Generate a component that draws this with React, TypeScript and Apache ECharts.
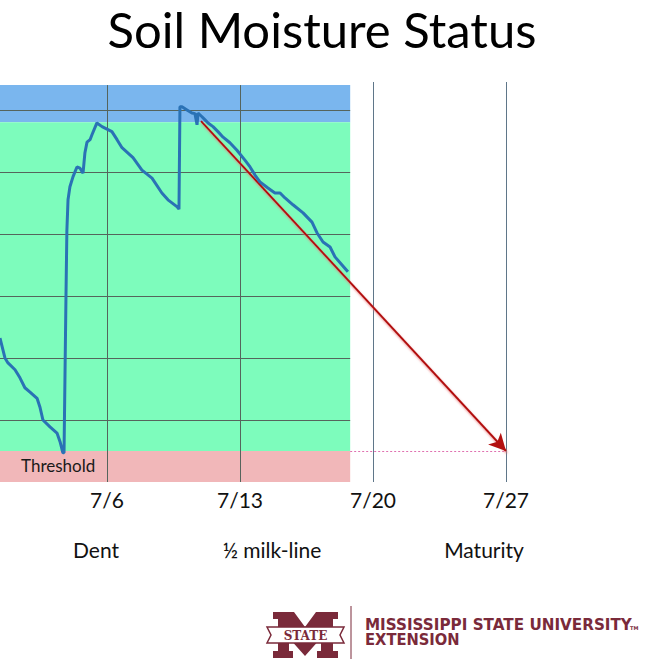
import React, { useEffect, useRef } from "react";
import * as echarts from "echarts";

// Days of July (x) and soil moisture index (y, arbitrary units, 1 per grid line)
const DAYS = [
  0.37, 0.63, 0.79, 1.16, 1.42, 1.68, 1.95, 2.32, 2.47, 2.63, 3.0, 3.37, 3.53, 3.68, 3.74,
  3.84, 3.89, 3.95, 4.05, 4.21, 4.42, 4.58, 4.74, 4.84, 4.95, 5.11, 5.21, 5.47, 5.74, 6.0,
  6.26, 6.53, 6.79, 7.05, 7.37, 7.84, 8.37, 8.89, 9.21, 9.68, 9.79, 9.84, 9.95, 10.21, 10.47,
  10.63, 10.74, 10.79, 11.0, 11.16, 11.32, 11.58, 11.84, 12.11, 12.47, 12.84, 13.26, 13.53,
  13.79, 14.05, 14.47, 14.84, 15.11, 15.37, 15.79, 16.32, 16.79, 17.05, 17.37, 17.74, 18.0,
  18.37, 18.68,
];
const MOISTURE = [
  2.32, 2.0, 1.92, 1.81, 1.68, 1.52, 1.45, 1.35, 1.21, 1.0, 0.89, 0.79, 0.65, 0.47, 0.47,
  2.94, 4.06, 4.55, 4.76, 4.92, 5.08, 5.06, 4.98, 5.31, 5.48, 5.52, 5.6, 5.79, 5.73, 5.69,
  5.65, 5.52, 5.39, 5.32, 5.23, 5.03, 4.9, 4.66, 4.55, 4.44, 4.4, 6.05, 6.05, 6.0, 5.95,
  5.94, 5.76, 5.95, 5.89, 5.84, 5.79, 5.73, 5.65, 5.56, 5.47, 5.35, 5.19, 5.08,
  4.95, 4.84, 4.74, 4.66, 4.66, 4.58, 4.47, 4.34, 4.19, 4.02, 3.87, 3.79, 3.63,
  3.5, 3.39,
];

const TICK_DAYS = [6, 13, 20, 27];
const TICK_LABELS = ["7/6", "7/13", "7/20", "7/27"];
const GRID_VALUES = [1, 2, 3, 4, 5, 6];
const STAGES = ["Dent", "½ milk-line", "Maturity"];

const X_MIN = 0.37;
const X_MAX = 33;
const BAND_END = 18.8;
const THRESHOLD = 0.5;
const OPTIMAL_TOP = 5.8;
const WET_TOP = 6.4;
const Y_MAX = 6.45;
const TREND_START = [10.95, 5.82];
const TREND_END = [27, THRESHOLD];

const FONT = "Lato, 'Open Sans', sans-serif";
const MAROON = "#7a2a3a";

export default function App() {
  const ref = useRef<HTMLDivElement>(null);

  useEffect(() => {
    if (!ref.current) return;
    const chart = echarts.init(ref.current, null, { renderer: "svg" });

    const lineData = DAYS.map((d, i) => [d, MOISTURE[i]]);

    const gridLineColor = "#55645c";
    const hLines = GRID_VALUES.map((v) => [
      { coord: [X_MIN, v] },
      { coord: [BAND_END, v] },
    ]);
    const vLines = TICK_DAYS.map((d) => {
      const inside = d < BAND_END;
      return [
        { coord: [d, 0], lineStyle: { color: inside ? gridLineColor : "#5f7689" } },
        { coord: [d, inside ? WET_TOP : Y_MAX] },
      ];
    });

    const mPts = [
      [273, 612], [294, 612], [305, 627], [316, 612], [338, 612], [338, 619], [333, 619],
      [333, 651], [338, 651], [338, 658], [317, 658], [317, 651], [321, 651], [321, 638],
      [305, 656], [289, 638], [289, 651], [293, 651], [293, 658], [273, 658], [273, 651],
      [278, 651], [278, 619], [273, 619],
    ];

    const stageStyle = (text: string) => ({
      text,
      font: `21px ${FONT}`,
      fill: "#111",
      align: "center",
      verticalAlign: "middle",
    });

    chart.setOption({
      animation: false,
      grid: { left: 0, top: 82, width: 620, height: 400, containLabel: false },
      xAxis: {
        type: "value",
        min: X_MIN,
        max: X_MAX,
        splitLine: { show: false },
        axisLine: { show: false },
        axisTick: { show: false },
        axisLabel: {
          customValues: TICK_DAYS,
          formatter: (v: number) => TICK_LABELS[TICK_DAYS.indexOf(Math.round(v))] ?? "",
          fontFamily: FONT,
          fontSize: 21,
          color: "#111",
          margin: 7,
        },
      },
      yAxis: {
        type: "value",
        min: 0,
        max: Y_MAX,
        show: false,
        splitLine: { show: false },
      },
      series: [
        {
          type: "line",
          name: "bands",
          data: [],
          silent: true,
          z: 1,
          markArea: {
            silent: true,
            data: [
              [
                { coord: [X_MIN, OPTIMAL_TOP], itemStyle: { color: "#7ab6ee" } },
                { coord: [BAND_END, WET_TOP] },
              ],
              [
                { coord: [X_MIN, THRESHOLD], itemStyle: { color: "#7dfcbc" } },
                { coord: [BAND_END, OPTIMAL_TOP] },
              ],
              [
                {
                  coord: [X_MIN, 0],
                  itemStyle: { color: "#f1b7b9" },
                  name: "Threshold",
                  label: {
                    show: true,
                    position: "insideBottomLeft",
                    color: "#1a1a1a",
                    fontFamily: FONT,
                    fontSize: 17,
                    offset: [16, -3],
                  },
                },
                { coord: [BAND_END, THRESHOLD] },
              ],
            ],
          },
          markLine: {
            silent: true,
            symbol: ["none", "none"],
            label: { show: false },
            lineStyle: { color: gridLineColor, width: 1, type: "solid" },
            data: [
              ...hLines,
              ...vLines,
              [
                {
                  coord: [BAND_END, THRESHOLD],
                  lineStyle: { color: "#e070b0", width: 1, type: [2, 2], opacity: 1 },
                },
                { coord: [TREND_END[0], THRESHOLD] },
              ],
            ],
          },
        },
        {
          type: "line",
          name: "Soil moisture",
          data: lineData,
          showSymbol: false,
          z: 5,
          lineStyle: { color: "#2a72b5", width: 3 },
        },
        {
          type: "line",
          name: "trend",
          data: [],
          z: 6,
          markLine: {
            silent: true,
            symbol: ["none", "arrow"],
            symbolSize: [13, 17],
            label: { show: false },
            itemStyle: { color: "#e00000" },
            lineStyle: {
              color: "#b31010",
              width: 2,
              type: "solid",
              shadowColor: "rgba(235,120,120,0.8)",
              shadowBlur: 2,
              shadowOffsetX: 1,
              shadowOffsetY: 2,
            },
            data: [[{ coord: TREND_START }, { coord: TREND_END }]],
          },
        },
      ],
      graphic: [
        {
          type: "text",
          x: 322,
          y: 29,
          style: {
            text: "Soil Moisture Status",
            font: `49px ${FONT}`,
            fill: "#000",
            align: "center",
            verticalAlign: "middle",
          },
        },
        { type: "text", x: 96, y: 549, style: stageStyle(STAGES[0]) },
        { type: "text", x: 272, y: 549, style: stageStyle(STAGES[1]) },
        { type: "text", x: 484, y: 549, style: stageStyle(STAGES[2]) },
        // Logo
        {
          type: "polygon",
          shape: { points: mPts },
          style: { fill: MAROON },
        },
        {
          type: "polygon",
          shape: {
            points: [[267, 627], [344, 627], [340, 635], [344, 643], [267, 643], [271, 635]],
          },
          style: { fill: "#fff", stroke: MAROON, lineWidth: 1.5 },
        },
        {
          type: "text",
          x: 305.5,
          y: 635.5,
          style: {
            text: "STATE",
            font: "bold 12px 'DejaVu Serif', serif",
            fill: MAROON,
            align: "center",
            verticalAlign: "middle",
          },
        },
        {
          type: "line",
          shape: { x1: 351, y1: 606, x2: 351, y2: 659 },
          style: { stroke: MAROON, lineWidth: 1 },
        },
        {
          type: "text",
          x: 365,
          y: 625,
          scaleX: 0.95,
          style: {
            text: "MISSISSIPPI STATE UNIVERSITY",
            font: "bold 16px 'DejaVu Sans', sans-serif",
            fill: MAROON,
            verticalAlign: "middle",
          },
        },
        {
          type: "text",
          x: 630,
          y: 628,
          style: { text: "TM", font: "bold 5px 'DejaVu Sans', sans-serif", fill: MAROON, verticalAlign: "middle" },
        },
        {
          type: "text",
          x: 365,
          y: 640,
          scaleX: 0.92,
          style: {
            text: "EXTENSION",
            font: "bold 16px 'DejaVu Sans', sans-serif",
            fill: MAROON,
            verticalAlign: "middle",
          },
        },
      ],
    });

    return () => chart.dispose();
  }, []);

  return (
    <div
      ref={ref}
      style={{ position: "absolute", left: 0, top: 0, width: 653, height: 665, background: "#fff" }}
    />
  );
}
